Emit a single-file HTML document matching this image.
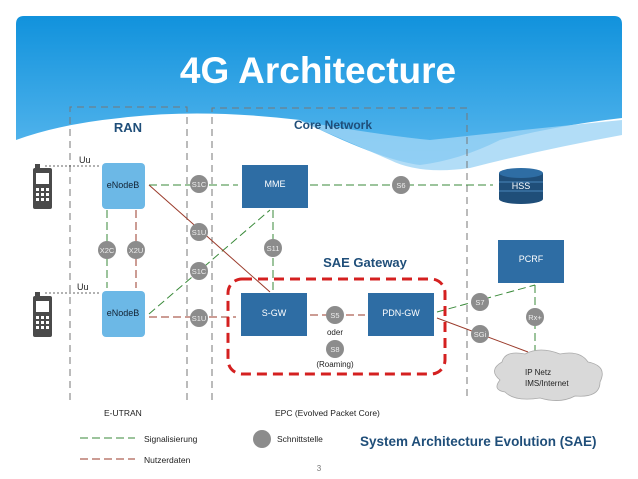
<!DOCTYPE html>
<html><head><meta charset="utf-8"><style>
body{margin:0;background:#fff}
svg{display:block}
text{font-family:"Liberation Sans",sans-serif}
</style></head><body>
<svg width="638" height="479" viewBox="0 0 638 479" xmlns="http://www.w3.org/2000/svg">
<defs>
<linearGradient id="bg" x1="0" y1="0" x2="0" y2="1">
<stop offset="0" stop-color="#1192dc"/><stop offset="1" stop-color="#5ab8ee"/></linearGradient>
<g id="ph"><rect x="0" y="4" width="19" height="41" rx="2" fill="#4a4a4a"/><rect x="2" y="0" width="5" height="6" fill="#4a4a4a"/>
<rect x="3" y="9" width="13" height="11" fill="#fff"/>
<g fill="#fff"><rect x="3" y="24" width="3" height="3"/><rect x="8" y="24" width="3" height="3"/><rect x="13" y="24" width="3" height="3"/>
<rect x="3" y="29" width="3" height="3"/><rect x="8" y="29" width="3" height="3"/><rect x="13" y="29" width="3" height="3"/>
<rect x="3" y="34" width="3" height="3"/><rect x="8" y="34" width="3" height="3"/><rect x="13" y="34" width="3" height="3"/></g></g>
</defs>
<path d="M16 24 Q16 16 24 16 L614 16 Q622 16 622 24 L622 118 Q560 125 500 140 Q460 160 420 165 Q380 160 300 120 Q200 108 120 118 Q60 124 16 140 Z" fill="url(#bg)"/>
<path d="M300 121 Q380 135 430 140 Q520 130 622 120 L622 135 Q540 150 470 168 Q420 175 390 160 Z" fill="#9fd4f5" opacity="0.8"/>
<text x="318" y="83" text-anchor="middle" font-size="37" font-weight="bold" fill="#fff">4G Architecture</text>
<g stroke="#777" stroke-width="1" stroke-dasharray="7,5" fill="none">
<path d="M70 400 V107 H187 V400"/>
<path d="M212 400 V108 H467 V400"/>
</g>
<text x="128" y="132" text-anchor="middle" font-size="13" font-weight="bold" fill="#1f4e79">RAN</text>
<text x="333" y="129" text-anchor="middle" font-size="12" font-weight="bold" fill="#1f4e79">Core Network</text>
<use href="#ph" x="33" y="164"/><use href="#ph" x="33" y="292"/>
<g stroke="#333" stroke-width="0.8" stroke-dasharray="2,2"><line x1="45" y1="166" x2="100" y2="166"/><line x1="45" y1="293" x2="100" y2="293"/></g>
<text x="79" y="163" font-size="9" fill="#222">Uu</text><text x="77" y="290" font-size="9" fill="#222">Uu</text>
<!-- connectors -->
<g stroke="#3a8a3a" stroke-width="1" stroke-dasharray="8,4" fill="none">
<line x1="149" y1="185" x2="238" y2="185"/><line x1="310" y1="185" x2="493" y2="185"/>
<line x1="149" y1="314" x2="270" y2="210"/><line x1="273" y1="210" x2="273" y2="291"/>
<line x1="107" y1="210" x2="107" y2="288"/>
<line x1="437" y1="312" x2="535" y2="285"/><line x1="535" y1="285" x2="535" y2="352"/>
<line x1="80" y1="438" x2="135" y2="438"/>
</g>
<g stroke="#9a3a2a" stroke-width="1" fill="none">
<line x1="149" y1="185" x2="270" y2="292"/>
<g stroke-dasharray="8,4"><line x1="136" y1="210" x2="136" y2="288"/>
<line x1="149" y1="317" x2="236" y2="317"/><line x1="310" y1="315" x2="365" y2="315"/>
<line x1="80" y1="459" x2="135" y2="459"/></g>
<line x1="437" y1="318" x2="528" y2="352"/>
</g>
<rect x="228" y="279" width="217" height="95" rx="14" fill="none" stroke="#d42020" stroke-width="3" stroke-dasharray="10,6"/>
<!-- nodes -->
<rect x="102" y="163" width="43" height="46" rx="4" fill="#6cb8e6"/>
<rect x="102" y="291" width="43" height="46" rx="4" fill="#6cb8e6"/>
<text x="123" y="188" text-anchor="middle" font-size="9" fill="#123">eNodeB</text>
<text x="123" y="316" text-anchor="middle" font-size="9" fill="#123">eNodeB</text>
<g fill="#2e6da4"><rect x="242" y="165" width="66" height="43"/><rect x="241" y="293" width="66" height="43"/><rect x="368" y="293" width="66" height="43"/><rect x="498" y="240" width="66" height="43"/></g>
<g fill="#fff" font-size="9" text-anchor="middle"><text x="275" y="187">MME</text><text x="274" y="316">S-GW</text><text x="401" y="316">PDN-GW</text><text x="531" y="262">PCRF</text></g>
<g><rect x="499" y="173" width="44" height="26" fill="#1f4e79"/><ellipse cx="521" cy="199" rx="22" ry="5" fill="#1f4e79"/><ellipse cx="521" cy="173" rx="22" ry="5" fill="#2e6da4"/>
<line x1="499" y1="182" x2="543" y2="182" stroke="#4a86bb"/><line x1="499" y1="191" x2="543" y2="191" stroke="#4a86bb"/>
<text x="521" y="189" text-anchor="middle" font-size="9" fill="#fff">HSS</text></g>
<path d="M500 380 Q488 370 502 362 Q505 350 525 354 Q540 346 560 354 Q580 350 588 362 Q608 366 600 382 Q600 398 575 396 Q560 404 540 398 Q515 402 505 392 Q492 390 500 380 Z" fill="#d9d9d9" stroke="#aaa" stroke-width="0.8"/>
<text x="525" y="375" font-size="8" fill="#222">IP Netz</text><text x="525" y="386" font-size="8" fill="#222">IMS/Internet</text>
<g fill="#8c8c8c"><circle cx="107" cy="250" r="9"/><circle cx="136" cy="250" r="9"/><circle cx="199" cy="184" r="9"/><circle cx="199" cy="232" r="9"/><circle cx="199" cy="271" r="9"/><circle cx="199" cy="318" r="9"/><circle cx="401" cy="185" r="9"/><circle cx="273" cy="248" r="9"/><circle cx="335" cy="315" r="9"/><circle cx="335" cy="349" r="9"/><circle cx="480" cy="302" r="9"/><circle cx="480" cy="334" r="9"/><circle cx="535" cy="317" r="9"/><circle cx="262" cy="439" r="9"/></g>
<g fill="#eee" font-size="7.5" text-anchor="middle"><text x="107" y="253">X2C</text><text x="136" y="253">X2U</text><text x="199" y="187">S1C</text><text x="199" y="235">S1U</text><text x="199" y="274">S1C</text><text x="199" y="321">S1U</text><text x="401" y="188">S6</text><text x="273" y="251">S11</text><text x="335" y="318">S5</text><text x="335" y="352">S8</text><text x="480" y="305">S7</text><text x="480" y="337">SGi</text><text x="535" y="320">Rx+</text></g>
<text x="335" y="335" text-anchor="middle" font-size="8" fill="#222">oder</text>
<text x="335" y="367" text-anchor="middle" font-size="8" fill="#222">(Roaming)</text>
<text x="365" y="267" text-anchor="middle" font-size="13" font-weight="bold" fill="#1f4e79">SAE Gateway</text>
<text x="104" y="416" font-size="8.5" fill="#222">E-UTRAN</text>
<text x="275" y="416" font-size="8.5" fill="#222">EPC (Evolved Packet Core)</text>
<text x="144" y="442" font-size="8.5" fill="#222">Signalisierung</text>
<text x="144" y="463" font-size="8.5" fill="#222">Nutzerdaten</text>
<text x="277" y="442" font-size="8.5" fill="#222">Schnittstelle</text>
<text x="360" y="446" font-size="13.5" font-weight="bold" fill="#1f4e79">System Architecture Evolution (SAE)</text>
<text x="319" y="471" text-anchor="middle" font-size="8" fill="#777">3</text>
</svg>
</body></html>
